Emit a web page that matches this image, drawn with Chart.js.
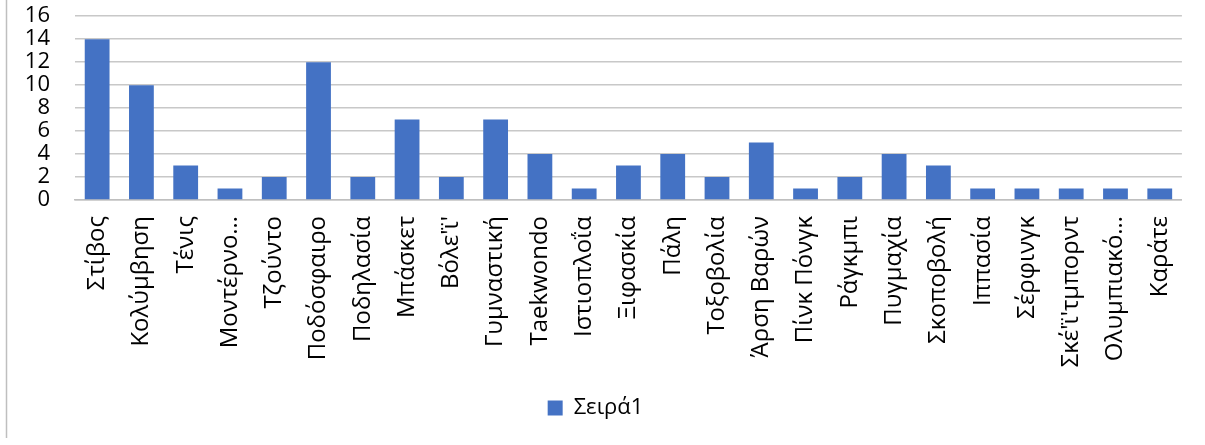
<!DOCTYPE html>
<html>
<head>
<meta charset="utf-8">
<script src="https://cdn.jsdelivr.net/npm/chart.js@4"></script>
<style>
  html, body { margin: 0; padding: 0; background: #fff; overflow: hidden; }
  /* canvas taller than the window so the plot can start near the top edge */
  #wrap { width: 1205px; height: 467px; margin-top: -22px; position: relative; }
</style>
</head>
<body>
<div id="wrap"><canvas id="c"></canvas></div>
<script>
const SPORTS = ["Στίβος","Κολύμβηση","Τένις","Μοντέρνο…","Τζούντο","Ποδόσφαιρο","Ποδηλασία",
  "Μπάσκετ","Βόλε'ϊ'","Γυμναστική","Taekwondo","Ιστιοπλοΐα","Ξιφασκία","Πάλη","Τοξοβολία",
  "Άρση Βαρών","Πίνκ Πόνγκ","Ράγκμπι","Πυγμαχία","Σκοποβολή","Ιππασία","Σέρφινγκ",
  "Σκέ'ϊ'τμπορντ","Ολυμπιακό…","Καράτε"];
const SERIES_NAME = "Σειρά1";
const COUNTS = [14,10,3,1,2,12,2,7,2,7,4,1,3,4,2,5,1,2,4,3,1,1,1,1,1];
const Y_MAX = 16, Y_STEP = 2;

const FONT = "'Open Sans', 'Noto Sans', sans-serif";

// thin outer frame on the left like the original chart box
const frame = {
  id: "frame",
  beforeDraw(chart) {
    const ctx = chart.ctx;
    ctx.save();
    ctx.fillStyle = "#fff";
    ctx.fillRect(0, 0, chart.width, chart.height);
    ctx.strokeStyle = "#bfbfbf";
    ctx.lineWidth = 1.5;
    ctx.beginPath();
    ctx.moveTo(6.5, 0);
    ctx.lineTo(6.5, chart.height - 7);
    ctx.stroke();
    ctx.restore();
  }
};

new Chart(document.getElementById("c"), {
  type: "bar",
  data: {
    labels: SPORTS,
    datasets: [{
      label: SERIES_NAME,
      data: COUNTS,
      backgroundColor: "#4472c4",
      borderWidth: 0,
      categoryPercentage: 0.56,
      barPercentage: 1
    }]
  },
  options: {
    responsive: true,
    maintainAspectRatio: false,
    animation: false,
    layout: { padding: { left: 8, right: 22, top: 0, bottom: 16 } },
    plugins: {
      legend: {
        position: "bottom",
        labels: {
          color: "#000",
          font: { family: FONT, size: 22 },
          boxWidth: 15, boxHeight: 15, padding: 8
        }
      },
      tooltip: { enabled: false }
    },
    scales: {
      x: {
        grid: { display: false, drawTicks: false },
        border: { color: "#bfbfbf", width: 1.5 },
        ticks: {
          color: "#000",
          font: { family: FONT, size: 24 },
          minRotation: 90, maxRotation: 90,
          autoSkip: false, padding: 16
        },
        afterFit(s) { s.height = 189; }
      },
      y: {
        min: 0, max: Y_MAX,
        grid: { color: "#c8c8c8", lineWidth: 1.5, drawTicks: false },
        border: { display: false },
        ticks: {
          stepSize: Y_STEP,
          autoSkip: false,
          color: "#000",
          font: { family: FONT, size: 22 },
          padding: 25
        },
        afterFit(s) { s.width = 67; }
      }
    }
  },
  plugins: [frame]
});
</script>
</body>
</html>
